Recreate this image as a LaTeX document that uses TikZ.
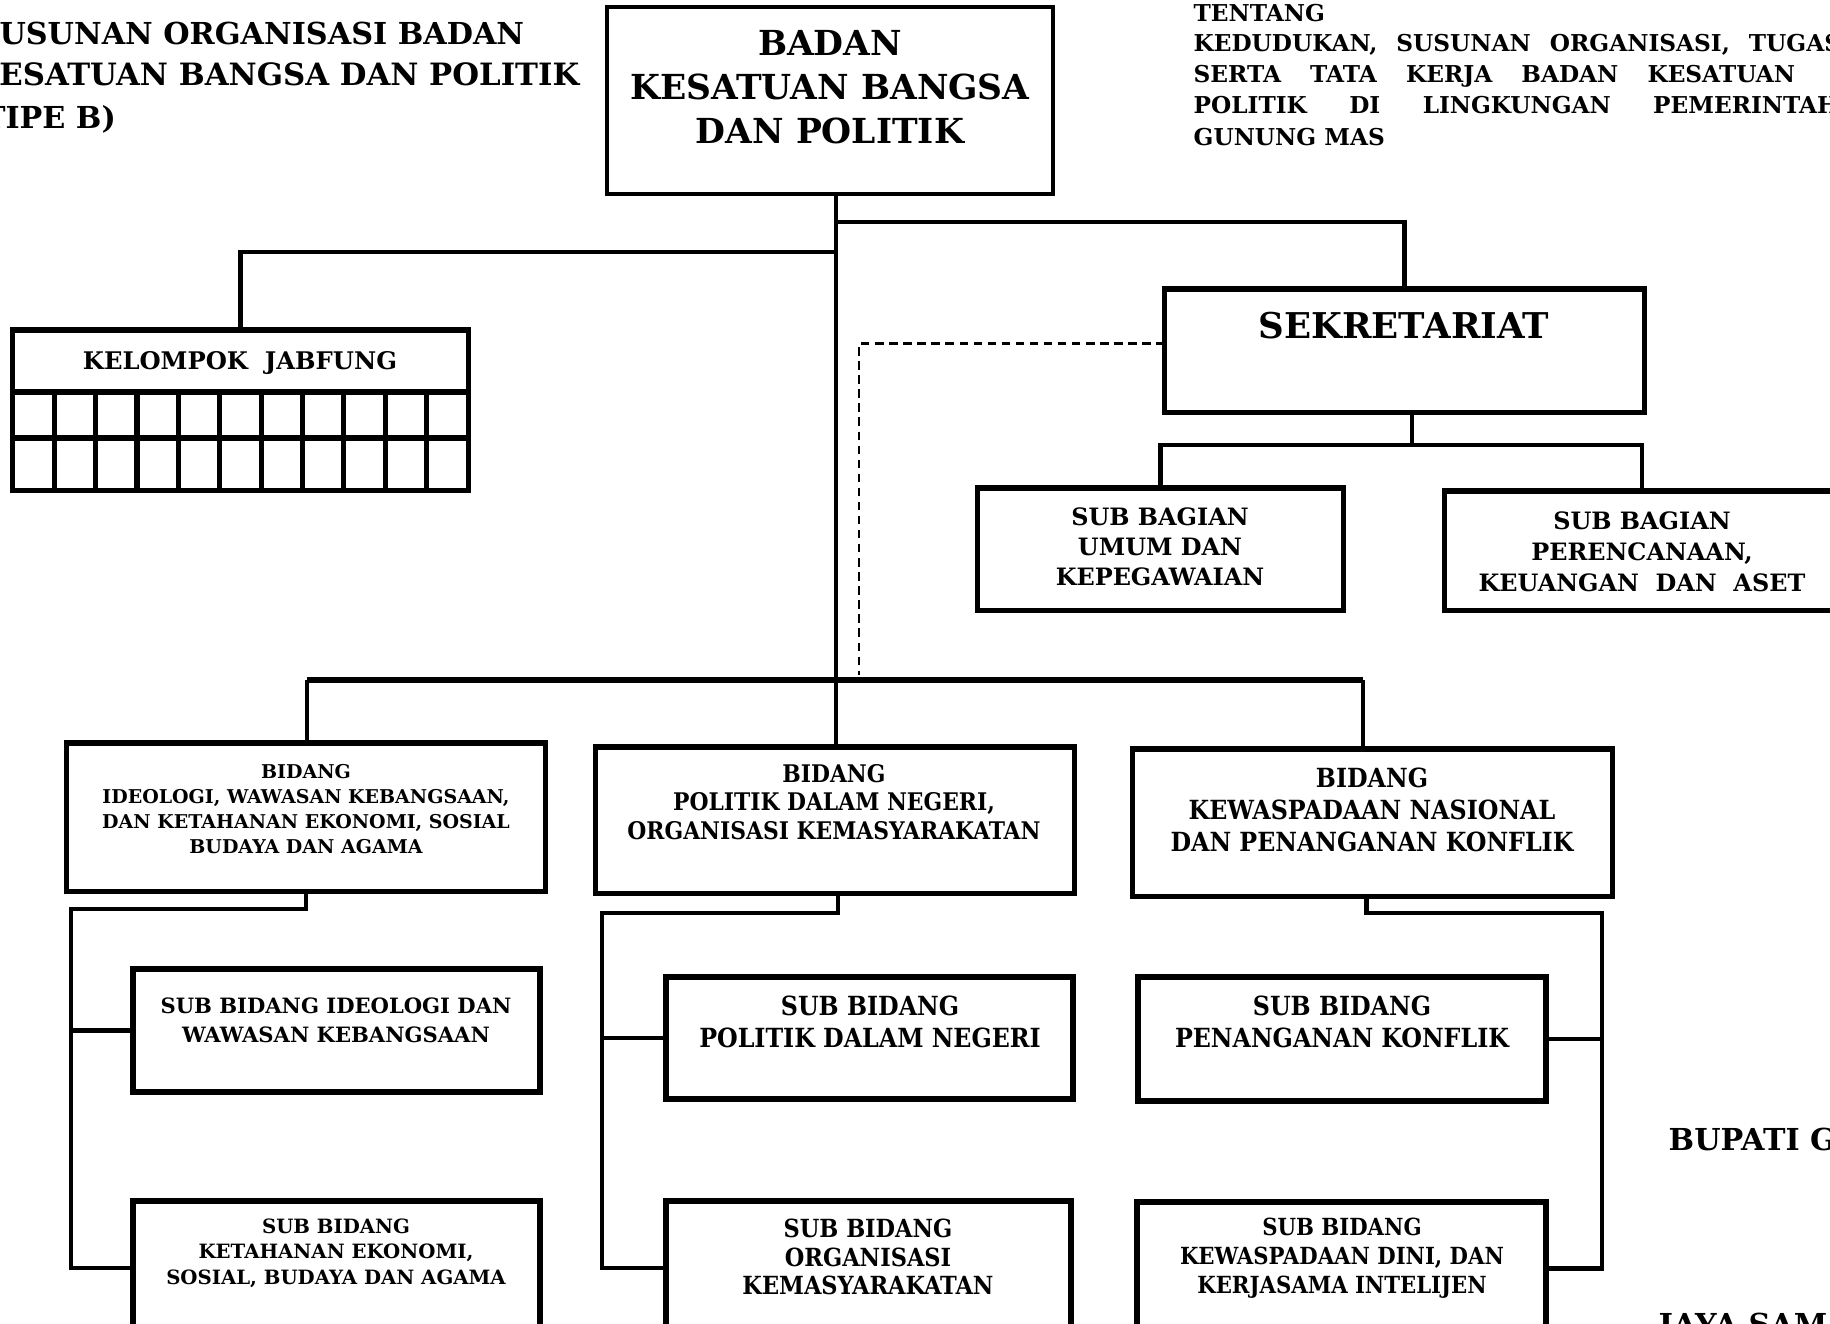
\documentclass[tikz,border=0pt]{standalone}
\usepackage{fontspec}
\setmainfont{DejaVu Serif}
\newfontfamily\cond{DejaVu Serif Condensed}
\usetikzlibrary{calc}
\newcommand\fs[2]{\fontsize{#1}{#2}\selectfont}
\newcommand\bx[6][]{%
  \pgfmathsetmacro\bw{(#5-#3)/100}\pgfmathsetmacro\bh{(#6-#4)/100}%
  \node[box, #1, minimum width=\bw cm, minimum height=\bh cm] (#2) at ({(#3+#5)/2},{(#4+#6)/2}) {};}
\tikzset{
  box/.style={draw, line width=1.45pt, inner sep=0pt, outer sep=0pt},
  lbl/.style={align=center, inner sep=0pt, font=\bfseries},
  tl/.style={inner sep=0pt, anchor=base west, font=\bfseries},
  conn/.style={line width=1.25pt},
  bar/.style={line width=1.9pt},
  dashline/.style={line width=0.7pt, dash pattern=on 2.4pt off 1.6pt}
}
\begin{document}
\begin{tikzpicture}[x=0.01cm,y=-0.01cm]
\useasboundingbox (0,0) rectangle (1830,1323);
\clip (0,0) rectangle (1830,1323);

% titles
\node[tl, font=\bfseries\fs{8.6}{10}] (t1) at (-23,44) {SUSUNAN ORGANISASI BADAN};
\node[tl, font=\bfseries\fs{8.75}{10}] (t2) at (-28,85) {KESATUAN BANGSA DAN POLITIK};
\node[tl, font=\bfseries\fs{8.6}{10}] (t3) at (-32,128) {(TIPE B)};

\node[tl, font=\bfseries\fs{6.6}{8}] (h1) at (1193,21) {TENTANG};
\node[tl, font=\bfseries\fs{6.6}{8}] (h2) at (1193,51) {\makebox[6.47cm][s]{KEDUDUKAN, SUSUNAN ORGANISASI, TUGAS}};
\node[tl, font=\bfseries\fs{6.6}{8}] (h3) at (1193,82) {\makebox[6.01cm][s]{SERTA TATA KERJA BADAN KESATUAN}};
\node[tl, font=\bfseries\fs{6.6}{8}] (h4) at (1193,113) {\makebox[6.45cm][s]{POLITIK DI LINGKUNGAN PEMERINTAH}};
\node[tl, font=\bfseries\fs{6.6}{8}] (h5) at (1193,145) {GUNUNG MAS};

\node[tl, font=\bfseries\fs{8.6}{10}] (bup) at (1668,1150) {BUPATI GUNUNG MAS};
\node[tl, font=\bfseries\fs{8.6}{10}] (jaya) at (1658,1335) {JAYA SAMAYA MONONG};

% boxes
\bx[line width=1.2pt]{main}{607}{7}{1053}{194}
\bx{kel}{13}{330}{468}{490}
\bx{sek}{1165}{289}{1644}{412}
\bx{sbu}{978}{488}{1343}{610}
\bx{sbp}{1445}{491}{1839}{610}
\bx{bl}{67}{743}{545}{891}
\bx{bm}{596}{747}{1074}{893}
\bx{br}{1133}{749}{1612}{896}
\bx[line width=1.6pt]{L1}{133}{969}{540}{1092}
\bx[line width=1.6pt]{L2}{133}{1201}{540}{1335}
\bx[line width=1.6pt]{M1}{666}{977}{1073}{1099}
\bx[line width=1.6pt]{M2}{666}{1201}{1071}{1335}
\bx[line width=1.6pt]{R1}{1138}{977}{1546}{1101}
\bx[line width=1.6pt]{R2}{1137}{1202}{1546}{1335}

% kelompok grid
\draw[box] ($(kel.north west)+(0,62)$) -- ($(kel.north east)+(0,62)$);
\draw[box] ($(kel.north west)+(0,108)$) -- ($(kel.north east)+(0,108)$);
\foreach \i in {1,...,10}
  \draw[box] ($(kel.north west)+({\i*455/11},62)$) -- ($(kel.south west)+({\i*455/11},0)$);

% texts
\node[lbl, font=\bfseries\fs{9.8}{12.6}] (tmain) at (830,87) {BADAN\\KESATUAN BANGSA\\DAN POLITIK};
\node[lbl, font=\bfseries\fs{6.9}{8}] (tkel) at (240,363) {KELOMPOK\ \ JABFUNG};
\node[lbl, font=\bfseries\fs{10.1}{12}] (tsek) at (1404,326) {SEKRETARIAT};
\node[lbl, font=\bfseries\fs{6.8}{8.6}] (tsbu) at (1160,547) {SUB BAGIAN\\UMUM DAN\\KEPEGAWAIAN};
\node[lbl, font=\bfseries\fs{6.8}{8.8}] (tsbp) at (1642,552) {SUB BAGIAN\\PERENCANAAN,\\KEUANGAN\ \ DAN\ \ ASET};
\node[lbl, font=\bfseries\fs{5.4}{7.1}] (tbl) at (306,809) {BIDANG\\ IDEOLOGI, WAWASAN KEBANGSAAN,\\DAN KETAHANAN EKONOMI, SOSIAL\\BUDAYA DAN AGAMA};
\node[lbl, font=\bfseries\cond\fs{6.9}{8.1}] (tbm) at (834,802) {BIDANG\\POLITIK DALAM NEGERI,\\ORGANISASI KEMASYARAKATAN};
\node[lbl, font=\bfseries\cond\fs{7.5}{9}] (tbr) at (1372,810) {BIDANG\\KEWASPADAAN NASIONAL\\DAN PENANGANAN KONFLIK};
\node[lbl, font=\bfseries\fs{6.0}{8.2}] (tL1) at (336,1020) {SUB BIDANG IDEOLOGI DAN\\WAWASAN KEBANGSAAN};
\node[lbl, font=\bfseries\fs{5.6}{7.2}] (tL2) at (336,1253) {SUB BIDANG\\KETAHANAN EKONOMI,\\SOSIAL, BUDAYA DAN AGAMA};
\node[lbl, font=\bfseries\cond\fs{7.5}{9.1}] (tM1) at (870,1022) {SUB BIDANG\\POLITIK DALAM NEGERI};
\node[lbl, font=\bfseries\cond\fs{7.1}{8.1}] (tM2) at (868,1257) {SUB BIDANG\\ORGANISASI\\KEMASYARAKATAN};
\node[lbl, font=\bfseries\cond\fs{7.5}{9.1}] (tR1) at (1342,1022) {SUB BIDANG\\PENANGANAN KONFLIK};
\node[lbl, font=\bfseries\cond\fs{6.7}{8.2}] (tR2) at (1342,1258) {SUB BIDANG\\KEWASPADAAN DINI, DAN\\KERJASAMA INTELIJEN};

% connectors
\coordinate (trunk) at (836,680);
\coordinate (j1) at (836,222);
\coordinate (j2) at (836,252);
\coordinate (dend) at (859,675);
\coordinate (barL) at (307,680);
\coordinate (barR) at (1363,680);
\coordinate (sj) at (1412,445);
\coordinate (lk) at (71,909);
\coordinate (mk) at (602,913);
\coordinate (rk) at (1602,913);

\draw[conn] (main.south -| trunk) -- (trunk) -- (trunk |- bm.north);
\draw[conn] (j1) -| (sek.north);
\draw[conn] (j2) -| (kel.north);
\draw[dashline] ($(sek.west)+(0,-7)$) -| (dend);
\draw[bar] (barL) -- (barR);
\draw[conn] (barL) -- (barL |- bl.north);
\draw[conn] (barR) -- (barR |- br.north);
\draw[conn] (sek.south -| sj) -- (sj);
\draw[conn] (sbu.north) |- (sj) -| (sbp.north);

\draw[conn] (bl.south) |- (lk) |- (L2.west);
\draw[conn] (lk |- L1.west) -- (L1.west);
\draw[conn] ($(bm.south)+(3,0)$) |- (mk) |- (M2.west);
\draw[conn] (mk |- M1.west) -- (M1.west);
\draw[conn] ($(br.south)+(-6,0)$) |- (rk) |- (R2.east);
\draw[conn] (rk |- R1.east) -- (R1.east);
\end{tikzpicture}
\end{document}
